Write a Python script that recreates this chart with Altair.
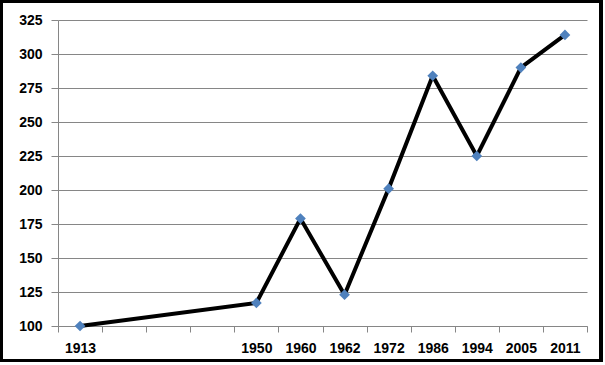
import altair as alt
import pandas as pd

years = ["1913", "1950", "1960", "1962", "1972", "1986", "1994", "2005", "2011"]
slots = [0, 4, 5, 6, 7, 8, 9, 10, 11]
values = [100, 117, 179, 123, 201, 284, 225, 290, 314]
all_slots = list(range(12))
y_ticks = [100, 125, 150, 175, 200, 225, 250, 275, 300, 325]

df = pd.DataFrame({"slot": slots, "year": years, "value": values})

label_map = "{" + ",".join(f"'{s}':'{y}'" for s, y in zip(slots, years)) + "}"
label_expr = f"({label_map})[datum.value] || ''"

FONT = "Liberation Sans"
GRAY = "#868686"

x_enc = alt.X(
    "slot:O",
    scale=alt.Scale(domain=all_slots, paddingInner=0, paddingOuter=0),
    axis=alt.Axis(
        title=None, labelExpr=label_expr, labelAngle=0, tickBand="extent",
        domainColor=GRAY, tickColor=GRAY, tickSize=6, labelPadding=9,
        labelFont=FONT, labelFontSize=14, labelFontWeight="bold", labelColor="#000000",
        grid=False,
    ),
)
y_enc = alt.Y(
    "value:Q",
    scale=alt.Scale(domain=[100, 325], nice=False, zero=False),
    axis=alt.Axis(
        title=None, values=y_ticks, grid=True, gridColor=GRAY, gridWidth=1,
        domainColor=GRAY, tickColor=GRAY, tickSize=7, labelPadding=9,
        labelFont=FONT, labelFontSize=14, labelFontWeight="bold", labelColor="#000000",
    ),
)

line = alt.Chart(df).mark_line(color="black", strokeWidth=4).encode(x=x_enc, y=y_enc)
points = alt.Chart(df).mark_point(
    shape="diamond", filled=True, color="#4F81BD", size=115, opacity=1
).encode(x=x_enc, y=y_enc)

border = alt.Chart(df).mark_rect(
    fill=None, fillOpacity=0, stroke="black", strokeWidth=3
).encode(
    x=alt.value(-56.5), x2=alt.value(543), y=alt.value(-18.5), y2=alt.value(340.5)
)

chart = alt.layer(line, points, border).properties(
    width=529, height=306,
    autosize=alt.AutoSizeParams(type="none"),
    padding={"left": 58, "top": 20, "right": 18, "bottom": 39},
    background="white",
).configure_view(stroke=None)

chart.save("out.html", embed_options={"renderer": "svg", "actions": False})
